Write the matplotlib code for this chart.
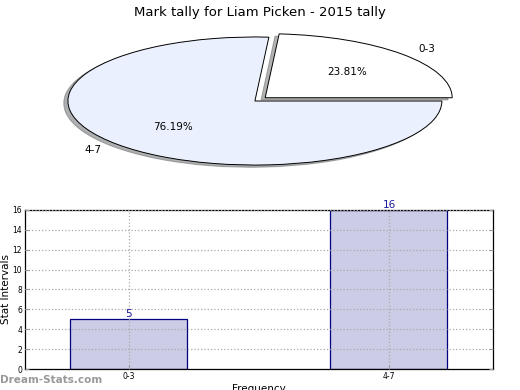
import matplotlib.pyplot as plt
import numpy as np

title = "Mark tally for Liam Picken - 2015 tally"
categories = ["0-3", "4-7"]
counts = [5, 16]
pie_colors = ["#ffffff", "#eaf0fd"]

fig = plt.figure(figsize=(5.2, 3.9), dpi=100)
fig.text(0.5, 0.985, title, ha="center", va="top", fontsize=9.5)

# pie, stretched into an ellipse
ax_pie = fig.add_axes([0.0587, 0.544, 0.863, 0.394])
ax_pie.pie(
    counts,
    labels=categories,
    colors=pie_colors,
    explode=[0.075, 0],
    startangle=0,
    autopct="%.2f%%",
    pctdistance=0.6,
    labeldistance=1.12,
    shadow={"ox": -0.016, "oy": -0.025, "shade": 0.6},
    wedgeprops={"edgecolor": "black", "linewidth": 0.7},
    textprops={"fontsize": 7.5},
)
ax_pie.set_aspect("auto")
ax_pie.set_xlim(-1.2, 1.2)
ax_pie.set_ylim(-1.2, 1.2)
ax_pie.axis("off")

# bar chart
ax = fig.add_axes([0.048, 0.0538, 0.9, 0.408])
x = np.arange(len(categories))
ax.bar(x, counts, width=0.45, color="#ccccE6", edgecolor="#000080", linewidth=0.9, zorder=2)
for xi, c in zip(x, counts):
    ax.text(xi, c, str(c), ha="center", va="bottom", color="#1a1aa0", fontsize=7.5)
ax.set_xlim(-0.4, 1.4)
ax.set_ylim(0, 16)
ax.set_yticks(np.arange(0, 17, 2))
ax.set_xticks(x)
ax.set_xticklabels(categories)
ax.tick_params(labelsize=5.5, direction="in", length=3, color="#999999", right=True, pad=2)
ax.grid(True, linestyle=":", color="#aaaaaa", linewidth=0.9, zorder=3)
ax.set_axisbelow(False)
ax.set_ylabel("Stat Intervals", fontsize=7.5, labelpad=1)
ax.set_xlabel("Frequency", fontsize=7.5, labelpad=2)
for s in ax.spines.values():
    s.set_linewidth(0.9)

fig.text(0.0, 0.026, "Dream-Stats.com", ha="left", va="center", fontsize=7.5,
         color="#999999", fontweight="bold")

fig.savefig("out.png", dpi=100)
